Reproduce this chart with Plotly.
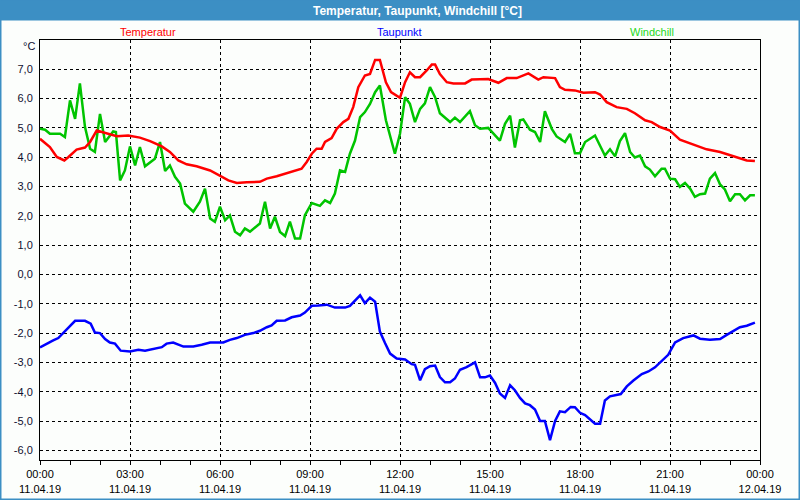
import plotly.graph_objects as go

# ---------------- data (hours since 11.04.19 00:00) ----------------
temp_h = [0.0,0.33,0.56,0.81,0.94,1.22,1.5,1.67,1.89,2.06,2.56,2.94,3.33,3.67,4.06,4.33,4.61,4.89,5.22,5.67,
          6.0,6.28,6.56,6.89,7.33,7.56,7.89,8.33,8.72,8.89,9.06,9.22,9.39,9.5,9.72,9.89,10.11,10.28,10.44,10.61,
          10.83,11.0,11.17,11.33,11.53,11.7,12.0,12.17,12.33,12.5,12.67,12.89,13.06,13.17,13.33,13.56,13.78,14.17,
          14.39,14.94,15.28,15.56,15.89,16.28,16.61,16.78,17.17,17.33,17.5,17.83,18.11,18.5,18.67,18.89,19.22,
          19.56,19.83,20.17,20.39,20.67,21.0,21.33,21.78,22.22,22.67,23.11,23.56,23.83]
temp_v = [4.63,4.35,4.01,3.89,4.0,4.26,4.33,4.52,4.91,4.86,4.72,4.74,4.67,4.55,4.37,4.18,3.89,3.76,3.69,3.55,
          3.38,3.21,3.12,3.15,3.16,3.27,3.35,3.5,3.61,3.84,4.12,4.29,4.29,4.52,4.65,4.97,5.2,5.31,5.71,6.39,
          6.79,6.84,7.32,7.32,6.56,6.22,6.03,6.56,6.9,6.73,6.73,6.96,7.16,7.16,6.84,6.56,6.52,6.52,
          6.65,6.67,6.54,6.7,6.7,6.86,6.65,6.73,6.7,6.39,6.3,6.28,6.2,6.22,6.14,5.88,5.71,
          5.65,5.5,5.26,5.2,5.03,4.91,4.6,4.43,4.27,4.18,4.03,3.89,3.87]

dew_h = [0.0,0.22,0.44,0.61,0.78,1.0,1.17,1.5,1.69,1.83,2.0,2.17,2.33,2.5,2.69,3.0,3.28,3.5,3.78,4.06,
         4.22,4.44,4.78,5.11,5.39,5.67,6.11,6.33,6.56,6.83,7.11,7.33,7.56,7.72,7.89,8.17,8.39,8.67,8.83,9.06,
         9.28,9.56,9.83,10.17,10.33,10.5,10.67,10.83,11.0,11.17,11.33,11.5,11.67,11.89,12.17,12.39,12.5,12.67,
         12.83,13.0,13.17,13.33,13.5,13.67,13.83,14.0,14.22,14.5,14.67,14.83,15.0,15.17,15.33,15.5,15.67,15.83,
         16.0,16.17,16.33,16.5,16.67,16.83,17.0,17.17,17.33,17.5,17.69,17.83,18.0,18.17,18.5,18.67,18.83,19.0,
         19.17,19.36,19.56,19.78,20.06,20.28,20.5,20.72,20.94,21.17,21.44,21.78,22.0,22.33,22.67,22.89,23.11,
         23.33,23.56,23.83]
dew_v = [-2.49,-2.36,-2.25,-2.17,-2.0,-1.78,-1.58,-1.58,-1.68,-1.98,-2.0,-2.2,-2.32,-2.36,-2.6,-2.63,-2.57,-2.6,-2.53,-2.48,
         -2.36,-2.32,-2.46,-2.46,-2.4,-2.32,-2.32,-2.23,-2.17,-2.06,-2.0,-1.92,-1.8,-1.74,-1.58,-1.57,-1.46,-1.4,-1.3,-1.07,
         -1.06,-1.03,-1.13,-1.13,-1.07,-0.89,-0.71,-0.98,-0.79,-0.93,-1.95,-2.34,-2.7,-2.87,-2.9,-3.06,-3.08,-3.61,
         -3.23,-3.13,-3.11,-3.5,-3.68,-3.68,-3.55,-3.25,-3.16,-3.0,-3.51,-3.51,-3.45,-3.7,-4.06,-4.21,-3.78,-3.95,
         -4.21,-4.4,-4.46,-4.61,-5.0,-5.0,-5.65,-5.0,-4.67,-4.7,-4.52,-4.53,-4.72,-4.8,-5.09,-5.09,-4.3,-4.16,
         -4.11,-4.08,-3.82,-3.62,-3.4,-3.31,-3.17,-2.97,-2.74,-2.32,-2.17,-2.08,-2.19,-2.23,-2.2,-2.06,-1.92,
         -1.8,-1.75,-1.64]

wind_h = [0.0,0.17,0.33,0.67,0.83,1.0,1.17,1.33,1.5,1.67,1.83,2.0,2.17,2.44,2.53,2.67,2.83,3.0,3.17,3.33,
          3.5,3.83,4.0,4.17,4.33,4.5,4.67,4.83,5.11,5.33,5.5,5.67,5.83,6.0,6.17,6.33,6.5,6.67,6.83,7.0,
          7.33,7.5,7.67,7.83,8.0,8.17,8.33,8.5,8.67,8.83,9.06,9.33,9.5,9.67,9.83,10.0,10.17,10.33,10.5,10.67,
          10.83,11.0,11.17,11.33,11.53,11.83,12.0,12.17,12.33,12.5,12.67,12.83,13.0,13.17,13.33,13.5,13.67,13.83,
          14.0,14.33,14.5,14.67,14.94,15.33,15.5,15.67,15.83,16.0,16.11,16.33,16.5,16.67,16.83,17.06,17.22,17.5,
          17.67,17.83,18.0,18.17,18.5,18.83,19.0,19.17,19.33,19.5,19.67,19.83,20.0,20.17,20.33,20.5,20.72,20.83,
          21.0,21.17,21.33,21.5,21.67,21.83,22.0,22.17,22.33,22.5,22.67,22.83,23.0,23.17,23.33,23.5,23.67,23.83]
wind_v = [4.97,4.94,4.8,4.8,4.69,5.94,5.31,6.52,5.03,4.29,4.18,5.48,4.52,4.88,4.86,3.21,3.55,4.37,3.72,4.35,
          3.69,3.95,4.52,3.53,3.72,3.33,3.1,2.42,2.14,2.48,2.93,1.91,1.8,2.31,1.85,2.02,1.46,1.34,1.57,1.46,
          1.74,2.48,1.57,1.97,1.45,1.31,1.8,1.23,1.23,2.02,2.44,2.34,2.53,2.44,2.76,3.55,3.5,4.12,4.57,5.37,
          5.54,5.82,6.22,6.45,5.26,4.12,4.8,6.05,5.82,5.2,5.65,5.84,6.39,6.05,5.5,5.35,5.2,5.35,
          5.2,5.57,5.09,4.97,5.0,4.57,5.14,5.42,4.33,5.26,5.29,4.94,4.86,4.52,5.57,4.97,4.71,4.52,
          4.8,4.14,4.14,4.52,4.74,4.06,4.27,4.03,4.55,4.82,4.18,3.99,4.06,3.69,3.58,3.35,3.61,3.61,
          3.27,3.25,2.99,3.12,2.93,2.65,2.74,2.76,3.27,3.46,3.07,2.9,2.5,2.74,2.74,2.53,2.7,2.7]

x_tickvals = [0, 3, 6, 9, 12, 15, 18, 21, 24]
x_ticktext = ["00:00<br>11.04.19", "03:00<br>11.04.19", "06:00<br>11.04.19", "09:00<br>11.04.19",
              "12:00<br>11.04.19", "15:00<br>11.04.19", "18:00<br>11.04.19", "21:00<br>11.04.19",
              "00:00<br>12.04.19"]
y_tickvals = [-6, -5, -4, -3, -2, -1, 0, 1, 2, 3, 4, 5, 6, 7]
y_ticktext = ["-6,0", "-5,0", "-4,0", "-3,0", "-2,0", "-1,0", "0,0", "1,0", "2,0", "3,0", "4,0", "5,0", "6,0", "7,0"]

series_names = ["Temperatur", "Taupunkt", "Windchill"]

# ---------------- figure ----------------
W, H = 800, 500
ML, MR, MT, MB = 40, 40, 40, 40
FONT = "Liberation Sans, Arial, sans-serif"
BAR = "#3c8fc4"

def xp(px):
    return (px - ML) / (W - ML - MR)

def yp(py):
    return (H - MB - py) / (H - MT - MB)

fig = go.Figure()
fig.add_trace(go.Scatter(x=wind_h, y=wind_v, mode="lines", name=series_names[2],
                         line=dict(color="#00c400", width=2.5)))
fig.add_trace(go.Scatter(x=temp_h, y=temp_v, mode="lines", name=series_names[0],
                         line=dict(color="#ff0000", width=2.5)))
fig.add_trace(go.Scatter(x=dew_h, y=dew_v, mode="lines", name=series_names[1],
                         line=dict(color="#0000ff", width=2.5)))

fig.update_layout(
    width=W, height=H, autosize=False,
    margin=dict(l=ML, r=MR, t=MT, b=MB, pad=0, autoexpand=False),
    paper_bgcolor="#fcfefc", plot_bgcolor="#fcfefc",
    showlegend=False, hovermode=False,
    font=dict(family=FONT, size=11, color="#000000"),
    xaxis=dict(range=[0, 24], tickmode="array", tickvals=x_tickvals, ticktext=x_ticktext,
               automargin=False,
               showgrid=True, gridcolor="#000000", gridwidth=1, griddash="3px,3px",
               showline=True, linecolor="#000000", linewidth=1, mirror=True,
               ticks="outside", ticklen=4, tickcolor="#000000", zeroline=False,
               tickfont=dict(family=FONT, size=11, color="#000000"),
               minor=dict(tickmode="linear", tick0=0, dtick=1, ticks="outside", ticklen=4,
                          tickcolor="#000000", showgrid=False)),
    yaxis=dict(range=[-6.33, 8.0], tickmode="array", tickvals=y_tickvals, ticktext=y_ticktext,
               automargin=False,
               showgrid=True, gridcolor="#000000", gridwidth=1, griddash="3px,3px",
               showline=True, linecolor="#000000", linewidth=1, mirror=True,
               ticks="", zeroline=False, ticklabelstandoff=4,
               tickfont=dict(family=FONT, size=11, color="#101030")),
)

# title bar and window border
fig.add_shape(type="rect", xref="paper", yref="paper", x0=xp(0), x1=xp(W), y0=yp(20.5), y1=yp(0),
              fillcolor=BAR, line=dict(width=0), layer="above")
fig.add_shape(type="rect", xref="paper", yref="paper", x0=xp(0.75), x1=xp(W - 0.75), y0=yp(H - 0.75), y1=yp(0),
              fillcolor="rgba(0,0,0,0)", line=dict(color=BAR, width=1.5), layer="above")

fig.add_annotation(text="Temperatur, Taupunkt, Windchill [°C]", xref="paper", yref="paper",
                   x=xp(417), y=yp(10.5), showarrow=False, xanchor="center", yanchor="middle",
                   font=dict(family=FONT, size=12, color="#ffffff", weight="bold"))

legend_x = [148, 399, 652]
legend_col = ["#ff0000", "#0000ff", "#22d822"]
for name, lx, col in zip(series_names, legend_x, legend_col):
    fig.add_annotation(text=name, xref="paper", yref="paper", x=xp(lx), y=yp(32),
                       showarrow=False, xanchor="center", yanchor="middle",
                       font=dict(family=FONT, size=11, color=col))

fig.add_annotation(text="°C", xref="paper", yref="paper", x=xp(37), y=yp(46),
                   showarrow=False, xanchor="right", yanchor="middle",
                   font=dict(family=FONT, size=11, color="#101030"))

fig.write_html("out.html", config={"displayModeBar": False, "staticPlot": True},
               post_script="document.body.style.margin='0';document.body.style.overflow='hidden';")
